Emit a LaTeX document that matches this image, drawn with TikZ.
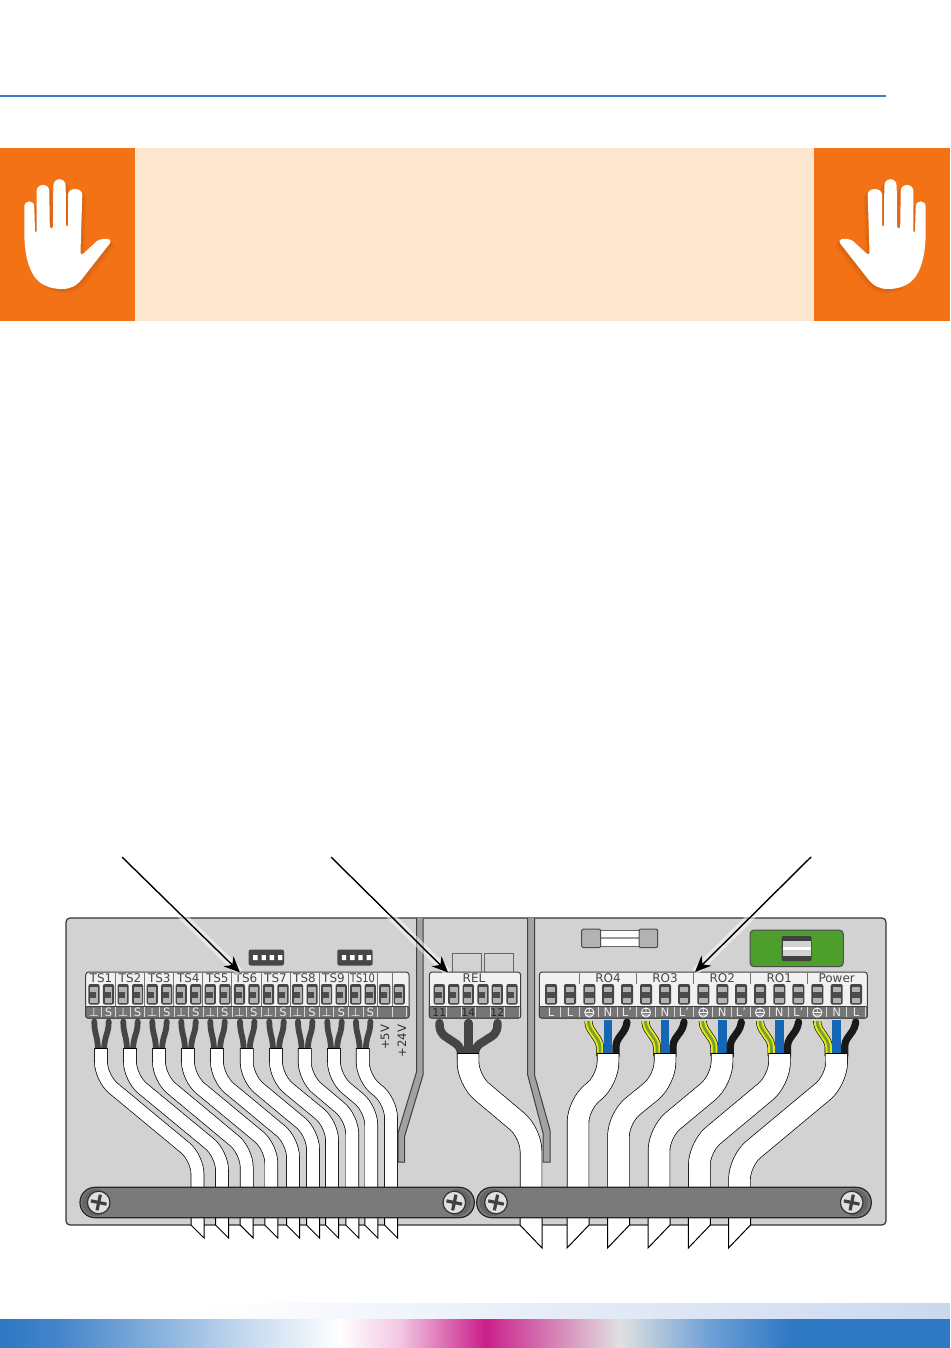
\documentclass[tikz,border=0pt]{standalone}
\usepackage{fontspec}
\setmainfont{DejaVu Sans}
\usetikzlibrary{arrows.meta}
\definecolor{orangebox}{HTML}{F47216}
\definecolor{palebox}{HTML}{FDE6D0}
\definecolor{bluerule}{HTML}{3B7FCB}
\definecolor{panelgray}{HTML}{D2D2D2}
\definecolor{ribgray}{HTML}{A2A2A2}
\definecolor{bargray}{HTML}{7A7A7A}
\definecolor{stripgray}{HTML}{757575}
\definecolor{blockwhite}{HTML}{F1F1F1}
\definecolor{wiredark}{HTML}{454545}
\definecolor{wireblue}{HTML}{1566B4}
\definecolor{wiregreen}{HTML}{6FA52E}
\definecolor{wireyellow}{HTML}{F2E21C}
\definecolor{boardgreen}{HTML}{4E9E2C}
\definecolor{stripblue}{HTML}{2F78C4}
\definecolor{stripmagenta}{HTML}{CA1F8A}
\definecolor{bandblue}{HTML}{CAD8EF}
\tikzset{
  toplabel/.style={font=\fontsize{6}{7}\selectfont,text=black!72,inner sep=0pt},
  striplabel/.style={font=\fontsize{5.8}{7}\selectfont,text=white!92!black,inner sep=0pt},
  relabel/.style={font=\fontsize{5.4}{7}\selectfont,text=black!85,inner sep=0pt},
  volt/.style={font=\fontsize{5.8}{7}\selectfont,text=black!80,inner sep=0pt,rotate=90,anchor=east},
  smallout/.style={draw=black,line width=6.8pt,rounded corners=8pt},
  smallin/.style={draw=white,line width=6.1pt,rounded corners=8pt},
  wideout/.style={draw=black,line width=11.2pt,rounded corners=9pt},
  widein/.style={draw=white,line width=10.5pt,rounded corners=9pt},
  pointer/.style={-{Stealth[length=8pt,width=7pt]},black,line width=0.7pt},
  glow/.style={white,opacity=0.5,line width=4pt},
  wireline/.style={wiredark,line width=2.9pt,line cap=round},
  relwire/.style={wiredark,line width=4.2pt,line cap=round,rounded corners=3pt},
}
\def\handpath{(24.3,236) -- (24.3,207) .. controls (24.3,199.5) and (34.3,199.5) .. (34.3,207) -- (35,231) .. controls (35.3,233) and (36.5,233) .. (36.7,231) -- (36.7,191) .. controls (36.7,183) and (49.3,183) .. (49.3,191) -- (49.8,227) .. controls (50,229) and (52.8,229) .. (53,227) -- (53.3,186) .. controls (53.3,177) and (65.7,177) .. (65.7,186) -- (66,225) .. controls (66.2,227.5) and (67.8,227.5) .. (68,225) -- (68,195) .. controls (68,187) and (82.3,187) .. (82.3,195) -- (80.5,252) .. controls (80.5,255) and (82.5,255) .. (84,253) -- (97,241) .. controls (101,238.5) and (108,238) .. (110,240) .. controls (111.5,242) and (109,245) .. (107,247) -- (82,279) .. controls (76,286.5) and (70,289) .. (62,289) .. controls (50,289) and (40,285) .. (34,276) .. controls (27,265) and (25,252) .. (24.3,236) -- cycle}
\def\hand{%
  \fill[black,opacity=0.05] [shift={(4,4)}] \handpath;
  \fill[black,opacity=0.05] [shift={(2,2)}] \handpath;
  \fill[white] \handpath;}
\def\smallcable#1#2#3#4{%
  \draw[smallout] (#1,#2) -- (#1,1078) -- (#3,#4) -- (#3,1205);
  \draw[smallin] (#1,#2+1) -- (#1,1078) -- (#3,#4) -- (#3,1205);}
\def\widecable#1#2#3#4{%
  \draw[wideout] (#1,#2) -- (#1,1080) -- (#3,#4) -- (#3,1205);
  \draw[widein] (#1,#2+1) -- (#1,1080) -- (#3,#4) -- (#3,1205);}
\def\smalltip#1{\filldraw[fill=white,draw=black,line width=0.5pt] (#1-6.5,1210) -- (#1-6.5,1225) -- (#1+6.5,1238) -- (#1+6.5,1210);}
\def\wideright#1{\filldraw[fill=white,draw=black,line width=0.5pt] (#1-11,1210) -- (#1-11,1225) -- (#1+11,1248) -- (#1+11,1210);}
\def\wideleft#1{\filldraw[fill=white,draw=black,line width=0.5pt] (#1-11,1210) -- (#1-11,1248) -- (#1+11,1225) -- (#1+11,1210);}
\def\screw#1#2{%
  \fill[black!60] (#1+#2,1202.5) circle (13.5);
  \filldraw[fill=black!12,draw=black!80,line width=0.6pt] (#1,1202.5) circle (11.3);
  \draw[black!75,line width=1.6pt,shift={(#1,1202.5)},rotate=-12] (-8,0) -- (8,0) (0,-8) -- (0,8);}
\def\termn#1{%
  \fill[black!72,rounded corners=1pt] (#1-5.6,984) rectangle (#1+5.6,1004.5);
  \fill[black!30] (#1-3.9,986.5) rectangle (#1+3.9,1002.5);
  \fill[black!70] (#1-3.9,992) rectangle (#1+2.2,997.5);
  \draw[white!85!black,line width=0.4pt] (#1+7.27,1007) -- (#1+7.27,1017);}
\def\termw#1{%
  \fill[black!72,rounded corners=1pt] (#1-6,984) rectangle (#1+6,1004.5);
  \fill[black!30] (#1-4.2,986.5) rectangle (#1+4.2,1002.5);
  \fill[black!70] (#1-4.2,992) rectangle (#1+4.2,997.5);
  \draw[white!85!black,line width=0.4pt] (#1+9.5,1007) -- (#1+9.5,1017);}
\def\block#1#2{%
  \filldraw[fill=blockwhite,draw=black!75,line width=0.5pt,rounded corners=1.5pt] (#1,972) rectangle (#2,1018);
  \filldraw[fill=stripgray,draw=black!75,line width=0.5pt,rounded corners=1pt] (#1,1006.5) rectangle (#2,1018);}
\def\pairwire#1{%
  \draw[wireline] (#1-6.7,1021.5) .. controls (#1-6.7,1035) and (#1-3,1035) .. (#1-3,1052);
  \draw[wireline] (#1+7.7,1021.5) .. controls (#1+7.7,1035) and (#1+3,1035) .. (#1+3,1052);}
\def\mainswire#1{%
  \draw[black,line width=4pt,rounded corners=2pt] (#1-19.5,1021) -- (#1-19.5,1026) -- (#1-8,1043) -- (#1-8,1056);
  \draw[wireyellow,line width=3.4pt,rounded corners=2pt] (#1-19.5,1021) -- (#1-19.5,1026) -- (#1-8,1043) -- (#1-8,1056);
  \draw[wiregreen,line width=1.4pt,rounded corners=2pt] (#1-19.5,1021) -- (#1-19.5,1026) -- (#1-8,1043) -- (#1-8,1056);
  \draw[wireblue,line width=4.4pt] (#1,1020) -- (#1,1056);
  \draw[black!90,line width=3.6pt,line cap=round,rounded corners=2pt] (#1+19,1022) -- (#1+18,1028) -- (#1+8,1042) -- (#1+8,1056);}
\def\earth#1{%
  \draw[white,line width=0.4pt] (#1,1012.5) circle (4.6) (#1-4.6,1012.5) -- (#1+4.6,1012.5) (#1,1008) -- (#1,1012.5) (#1-3,1015) -- (#1+3,1015);}
\def\dipswitch#1{%
  \fill[black!72,rounded corners=1pt] (#1,949.5) rectangle (#1+35.3,965.5);
  \fill[white] (#1+4.5,955) rectangle +(4.4,5) (#1+12.8,955) rectangle +(4.4,5) (#1+21,955) rectangle +(4.4,5) (#1+29.3,955) rectangle +(4.4,5);}

\begin{document}
\begin{tikzpicture}[x=0.5pt,y=-0.5pt]
  \useasboundingbox (0,0) rectangle (950,1348);
  % header
  \draw[bluerule,line width=0.75pt] (0,96) -- (886,96);
  \fill[palebox] (135,148) rectangle (814,321);
  \fill[orangebox] (0,148) rectangle (135,321);
  \fill[orangebox] (814,148) rectangle (950,321);
  \begin{scope}
    \hand
  \end{scope}
  \begin{scope}[shift={(950,0)},xscale=-1]
    \hand
  \end{scope}
  % footer
  \shade[left color=white,right color=bandblue] (200,1303) rectangle (950,1319);
  \shade[left color=stripblue,right color=stripblue!90!white] (0,1319) rectangle (60,1348);
  \shade[left color=stripblue!90!white,right color=stripblue!30!white] (60,1319) rectangle (240,1348);
  \shade[left color=stripblue!30!white,right color=white] (240,1319) rectangle (340,1348);
  \shade[left color=white,right color=stripmagenta!25!white] (340,1319) rectangle (400,1348);
  \shade[left color=stripmagenta!25!white,right color=stripmagenta] (400,1319) rectangle (485,1348);
  \shade[left color=stripmagenta,right color=black!12] (485,1319) rectangle (620,1348);
  \shade[left color=black!12,right color=stripblue!70!white] (620,1319) rectangle (710,1348);
  \shade[left color=stripblue!70!white,right color=stripblue] (710,1319) rectangle (790,1348);
  \fill[stripblue] (790,1319) rectangle (950,1348);
  % panel
  \filldraw[fill=panelgray,draw=black!80,line width=0.6pt,rounded corners=2pt] (66,918) rectangle (886,1225);
  \filldraw[fill=ribgray,draw=black!75,line width=0.5pt] (416.5,918) -- (416.5,1072) -- (398,1133) -- (398,1162) -- (404.7,1162) -- (404.7,1136) -- (423,1075) -- (423,918);
  % fuse
  \filldraw[fill=white,draw=black!60,line width=0.4pt] (600,930.7) rectangle (639,946);
  \draw[black!40,line width=1pt] (600,938.3) -- (639,938.3);
  \filldraw[fill=black!30,draw=black!70,line width=0.5pt,rounded corners=1pt] (581.7,929) rectangle (600.7,947.7);
  \filldraw[fill=black!30,draw=black!70,line width=0.5pt,rounded corners=1pt] (639,929) rectangle (657.7,947.7);
  % green board
  \filldraw[fill=boardgreen,draw=black!70,line width=0.5pt,rounded corners=2pt] (750,930) rectangle (843.3,966.7);
  \fill[black!75,rounded corners=1pt] (781.7,936) rectangle (811.7,961);
  \fill[black!18] (783,941) rectangle (810.5,956);
  \fill[white] (783,947) rectangle (810.5,950);
  % small parts
  \dipswitch{248.7}
  \dipswitch{337.3}
  \filldraw[fill=panelgray,draw=black!60,line width=0.4pt] (452.7,953.3) rectangle (481.7,972);
  \filldraw[fill=panelgray,draw=black!60,line width=0.4pt] (484,953.3) rectangle (513.3,972);
  % wires
  \pairwire{101}
  \pairwire{130}
  \pairwire{159}
  \pairwire{188}
  \pairwire{217}
  \pairwire{246.7}
  \pairwire{276}
  \pairwire{304.7}
  \pairwire{334}
  \pairwire{362.7}
  \draw[relwire] (439.5,1023) -- (440,1033) -- (461,1047) -- (461,1058);
  \draw[relwire] (497.5,1023) -- (497,1033) -- (475,1047) -- (475,1058);
  \draw[relwire] (468.3,1023) -- (468.3,1058);
  \mainswire{608}
  \mainswire{665}
  \mainswire{722.3}
  \mainswire{779.5}
  \mainswire{836.7}
  % thin cables
  \smalltip{197.5}
  \smalltip{222}
  \smalltip{246.7}
  \smalltip{271.3}
  \smalltip{293}
  \smalltip{313}
  \smalltip{332}
  \smalltip{352.3}
  \smalltip{371.3}
  \smalltip{391}
  \smallcable{101}{1048}{197.5}{1158}
  \smallcable{130}{1048}{222}{1154}
  \smallcable{159}{1048}{246.7}{1151}
  \smallcable{188}{1048}{271.3}{1147}
  \smallcable{217}{1048}{293}{1141}
  \smallcable{246.7}{1048}{313}{1133}
  \smallcable{276}{1048}{332}{1124}
  \smallcable{304.7}{1048}{352.3}{1118}
  \smallcable{334}{1048}{371.3}{1109}
  \smallcable{362.7}{1048}{391}{1101.5}
  % wide cables
  \wideright{531}
  \wideleft{578}
  \wideleft{618.5}
  \wideleft{659}
  \wideleft{699.3}
  \wideleft{739.5}
  \widecable{468}{1053}{531}{1133}
  \widecable{608}{1053}{578}{1104.5}
  \widecable{665}{1053}{618.5}{1118}
  \widecable{722}{1053}{659}{1132.5}
  \widecable{779.5}{1053}{699.3}{1147}
  \widecable{836.7}{1053}{739.5}{1161}
  \filldraw[fill=ribgray,draw=black!75,line width=0.5pt] (527.7,918) -- (527.7,1075) -- (543,1133) -- (543,1162) -- (550,1162) -- (550,1130) -- (534.5,1075) -- (534.5,918);
  % bars
  \filldraw[fill=bargray,draw=black!85,line width=0.6pt,rounded corners=7.5pt] (80,1187.3) rectangle (474.3,1217.7);
  \filldraw[fill=bargray,draw=black!85,line width=0.6pt,rounded corners=7.5pt] (476.7,1187.3) rectangle (871.3,1217.7);
  \screw{98.7}{-3}
  \screw{454.3}{3}
  \screw{496}{-3}
  \screw{851.7}{3}
  % terminal blocks
  \block{85.7}{409}
  \block{429.3}{520.7}
  \block{539.3}{867.3}
  \termn{94} \termn{108.5} \termn{123.1} \termn{137.6} \termn{152.2} \termn{166.7}
  \termn{181.2} \termn{195.8} \termn{210.3} \termn{224.9} \termn{239.4} \termn{253.9}
  \termn{268.5} \termn{283} \termn{297.6} \termn{312.1} \termn{326.6} \termn{341.2}
  \termn{355.7} \termn{370.3} \termn{384.8} \termn{399.3}
  \termn{439.3} \termn{453.7} \termn{468.3} \termn{483} \termn{497.3} \termn{512}
  \termw{551} \termw{570} \termw{589.3} \termw{608} \termw{627} \termw{646}
  \termw{665} \termw{684} \termw{703.3} \termw{722.3} \termw{741} \termw{760}
  \termw{779.3} \termw{798.3} \termw{817.3} \termw{836.7} \termw{856}
  \draw[black!55,line width=0.35pt] (115,973) -- (115,1006) (144.3,973) -- (144.3,1006) (173.3,973) -- (173.3,1006) (202.3,973) -- (202.3,1006) (231.7,973) -- (231.7,1006) (261,973) -- (261,1006) (290,973) -- (290,1006) (319.3,973) -- (319.3,1006) (348.3,973) -- (348.3,1006) (377.7,973) -- (377.7,1006) (392,973) -- (392,1006);
  \draw[black!55,line width=0.35pt] (579,973) -- (579,984) (636.7,973) -- (636.7,984) (693.5,973) -- (693.5,984) (750.7,973) -- (750.7,984) (807.7,973) -- (807.7,984);
  % labels
  \node[toplabel] (ts1) at (101,978.5) {TS1};
  \node[toplabel] (ts2) at (130,978.5) {TS2};
  \node[toplabel] (ts3) at (159.3,978.5) {TS3};
  \node[toplabel] (ts4) at (188.3,978.5) {TS4};
  \node[toplabel] (ts5) at (217.3,978.5) {TS5};
  \node[toplabel] (ts6) at (246,978.5) {TS6};
  \node[toplabel] (ts7) at (275.5,978.5) {TS7};
  \node[toplabel] (ts8) at (304.5,978.5) {TS8};
  \node[toplabel] (ts9) at (333.5,978.5) {TS9};
  \node[toplabel] (ts10) at (362.5,978.5) {\scalebox{.82}[1]{TS10}};
  \node[toplabel] (rel) at (474,978.5) {REL};
  \node[toplabel] (ro4) at (608,978.5) {RO4};
  \node[toplabel] (ro3) at (665,978.5) {RO3};
  \node[toplabel] (ro2) at (722.3,978.5) {RO2};
  \node[toplabel] (ro1) at (779.3,978.5) {RO1};
  \node[toplabel] (power) at (836.7,978.5) {Power};
  \node[striplabel] (t1) at (94,1012) {⊥};
  \node[striplabel] (s1) at (108.5,1012) {S};
  \node[striplabel] (t2) at (123.1,1012) {⊥};
  \node[striplabel] (s2) at (137.6,1012) {S};
  \node[striplabel] (t3) at (152.2,1012) {⊥};
  \node[striplabel] (s3) at (166.7,1012) {S};
  \node[striplabel] (t4) at (181.2,1012) {⊥};
  \node[striplabel] (s4) at (195.8,1012) {S};
  \node[striplabel] (t5) at (210.3,1012) {⊥};
  \node[striplabel] (s5) at (224.9,1012) {S};
  \node[striplabel] (t6) at (239.4,1012) {⊥};
  \node[striplabel] (s6) at (253.9,1012) {S};
  \node[striplabel] (t7) at (268.5,1012) {⊥};
  \node[striplabel] (s7) at (283,1012) {S};
  \node[striplabel] (t8) at (297.6,1012) {⊥};
  \node[striplabel] (s8) at (312.1,1012) {S};
  \node[striplabel] (t9) at (326.6,1012) {⊥};
  \node[striplabel] (s9) at (341.2,1012) {S};
  \node[striplabel] (t10) at (355.7,1012) {⊥};
  \node[striplabel] (s10) at (370.3,1012) {S};
  \node[relabel] (c11) at (439.3,1012.3) {11};
  \node[relabel] (c14) at (468.3,1012.3) {14};
  \node[relabel] (c12) at (497.3,1012.3) {12};
  \node[striplabel] (l1) at (551,1012) {L};
  \node[striplabel] (l2) at (570,1012) {L};
  \node[striplabel] (n4) at (608,1012) {N};
  \node[striplabel] (lp4) at (627,1012) {L'};
  \node[striplabel] (n3) at (665,1012) {N};
  \node[striplabel] (lp3) at (684,1012) {L'};
  \node[striplabel] (n2) at (722.3,1012) {N};
  \node[striplabel] (lp2) at (741,1012) {L'};
  \node[striplabel] (n1) at (779.3,1012) {N};
  \node[striplabel] (lp1) at (798.3,1012) {L'};
  \node[striplabel] (npow) at (836.7,1012) {N};
  \node[striplabel] (lpow) at (856,1012) {L};
  \earth{589.3}
  \earth{646}
  \earth{703.3}
  \earth{760}
  \earth{817.3}
  \node[volt] (v5) at (385,1024.5) {+5V};
  \node[volt] (v24) at (401.7,1024.5) {+24V};
  % pointers
  \coordinate (from1) at (122,857);
  \coordinate (to1) at (240,972.5);
  \coordinate (from2) at (331,857);
  \coordinate (to2) at (448,972.5);
  \coordinate (from3) at (811,857);
  \coordinate (to3) at (695,972);
  \draw[glow] (from1) -- (to1);
  \draw[glow] (from2) -- (to2);
  \draw[glow] (from3) -- (to3);
  \draw[pointer] (from1) -- (to1);
  \draw[pointer] (from2) -- (to2);
  \draw[pointer] (from3) -- (to3);
\end{tikzpicture}
\end{document}
